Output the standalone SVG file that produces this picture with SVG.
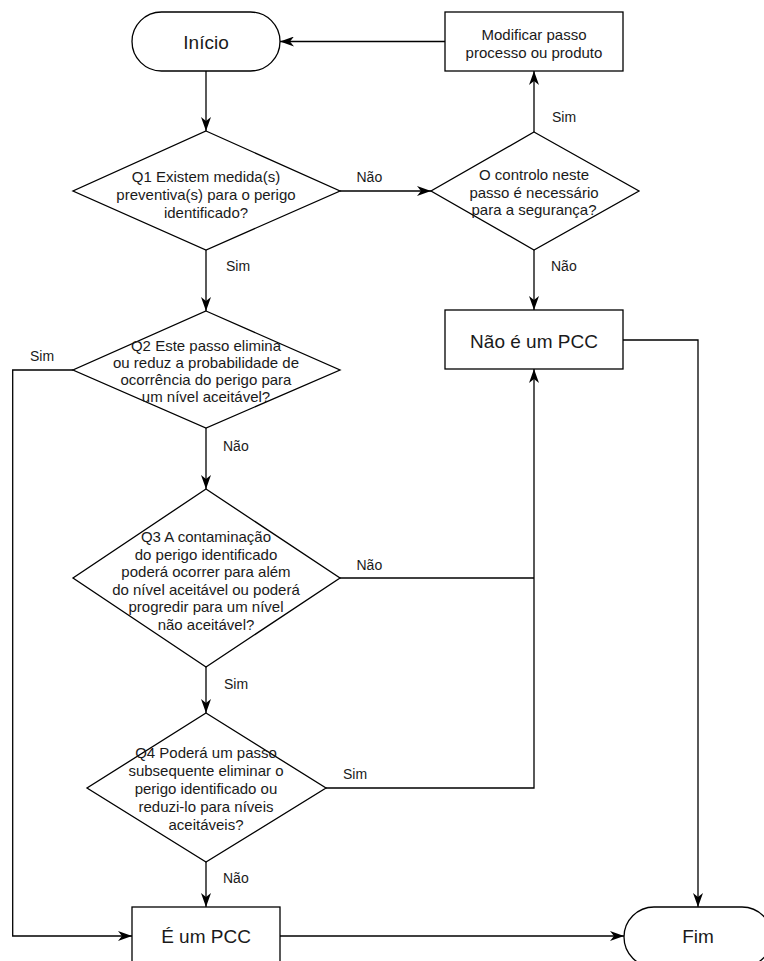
<svg xmlns="http://www.w3.org/2000/svg" width="764" height="961" viewBox="0 0 764 961">
<defs>
<style>
.shape{fill:#fff;stroke:#000;stroke-width:1.3}
.edge{fill:none;stroke:#000;stroke-width:1.3}
.t{font-family:"Liberation Sans",Arial,sans-serif;font-size:15px;fill:#1a1a1a;text-anchor:middle}
.big{font-size:19px}
.lbl{font-family:"Liberation Sans",Arial,sans-serif;font-size:14px;fill:#1a1a1a}
</style>
<marker id="ah" viewBox="0 0 14 10" refX="14" refY="5" markerWidth="14" markerHeight="10" markerUnits="userSpaceOnUse" orient="auto">
<path d="M0,0 L14,5 L0,10 L4,5 z" fill="#000"/>
</marker>
</defs>
<rect width="764" height="961" fill="#fff"/>
<g id="connectors">
<path class="edge" d="M206,71 V131" marker-end="url(#ah)"/>
<path class="edge" d="M340,191 H431" marker-end="url(#ah)"/>
<path class="edge" d="M534,132 V71" marker-end="url(#ah)"/>
<path class="edge" d="M445,41.5 H280" marker-end="url(#ah)"/>
<path class="edge" d="M534,250 V310" marker-end="url(#ah)"/>
<path class="edge" d="M206,250 V311" marker-end="url(#ah)"/>
<path class="edge" d="M73,370 H12.7 V936 H132" marker-end="url(#ah)"/>
<path class="edge" d="M206,428 V489" marker-end="url(#ah)"/>
<path class="edge" d="M340,578 H534"/>
<path class="edge" d="M326,788 H534 V369" marker-end="url(#ah)"/>
<path class="edge" d="M206,667 V713" marker-end="url(#ah)"/>
<path class="edge" d="M206,862 V907" marker-end="url(#ah)"/>
<path class="edge" d="M280,936 H624" marker-end="url(#ah)"/>
<path class="edge" d="M623,340 H698 V907" marker-end="url(#ah)"/>
<text class="lbl" x="356.5" y="182">Não</text>
<text class="lbl" x="552" y="122">Sim</text>
<text class="lbl" x="551" y="271">Não</text>
<text class="lbl" x="226" y="271">Sim</text>
<text class="lbl" x="30" y="361">Sim</text>
<text class="lbl" x="223" y="451">Não</text>
<text class="lbl" x="356.5" y="570">Não</text>
<text class="lbl" x="224" y="689">Sim</text>
<text class="lbl" x="343" y="779">Sim</text>
<text class="lbl" x="223" y="883">Não</text>
</g>
<g id="inicio">
<rect class="shape" x="132" y="12" width="148" height="59" rx="29.5"/>
<text class="t big" x="206" y="49">Início</text>
</g>
<g id="modificar">
<rect class="shape" x="445" y="12" width="178" height="59"/>
<text class="t" x="534" y="39.5">Modificar passo</text>
<text class="t" x="534" y="57.5">processo ou produto</text>
</g>
<g id="q1">
<polygon class="shape" points="206,131 340,191 206,250 73,191"/>
<text class="t" x="206" y="181.5">Q1 Existem medida(s)</text>
<text class="t" x="206" y="199.5">preventiva(s) para o perigo</text>
<text class="t" x="206" y="217.5">identificado?</text>
</g>
<g id="controlo">
<polygon class="shape" points="534,132 639,191 534,250 431,191"/>
<text class="t" x="534" y="180">O controlo neste</text>
<text class="t" x="534" y="197.5">passo é necessário</text>
<text class="t" x="534" y="215">para a segurança?</text>
</g>
<g id="nao-pcc">
<rect class="shape" x="445" y="310" width="178" height="59"/>
<text class="t big" x="534" y="348">Não é um PCC</text>
</g>
<g id="q2">
<polygon class="shape" points="206,311 340,370 206,428 73,370"/>
<text class="t" x="206" y="351">Q2 Este passo elimina</text>
<text class="t" x="206" y="368">ou reduz a probabilidade de</text>
<text class="t" x="206" y="385">ocorrência do perigo para</text>
<text class="t" x="206" y="402">um nível aceitável?</text>
</g>
<g id="q3">
<polygon class="shape" points="206,489 340,578 206,667 73,578"/>
<text class="t" x="206" y="542">Q3 A contaminação</text>
<text class="t" x="206" y="559.5">do perigo identificado</text>
<text class="t" x="206" y="577">poderá ocorrer para além</text>
<text class="t" x="206" y="594.5">do nível aceitável ou poderá</text>
<text class="t" x="206" y="612">progredir para um nível</text>
<text class="t" x="206" y="629.5">não aceitável?</text>
</g>
<g id="q4">
<polygon class="shape" points="206,713 326,788 206,862 87,788"/>
<text class="t" x="206" y="758">Q4 Poderá um passo</text>
<text class="t" x="206" y="776">subsequente eliminar o</text>
<text class="t" x="206" y="794">perigo identificado ou</text>
<text class="t" x="206" y="812">reduzi-lo para níveis</text>
<text class="t" x="206" y="830">aceitáveis?</text>
</g>
<g id="e-pcc">
<rect class="shape" x="132" y="907" width="148" height="60"/>
<text class="t big" x="206" y="943">É um PCC</text>
</g>
<g id="fim">
<rect class="shape" x="624" y="907" width="148" height="60" rx="30"/>
<text class="t big" x="698" y="943">Fim</text>
</g>
</svg>
